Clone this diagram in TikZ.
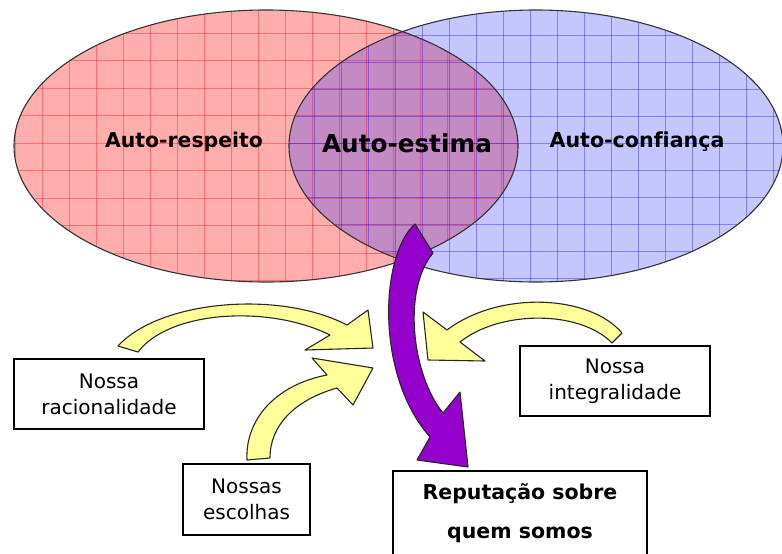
\documentclass[tikz,border=0pt]{standalone}
\usepackage{fontspec}
\setmainfont[Ligatures=NoCommon]{DejaVu Sans}
\definecolor{pinkfill}{RGB}{255,173,173}
\definecolor{bluefill}{RGB}{198,198,255}
\definecolor{mixfill}{RGB}{196,138,196}
\definecolor{purparr}{RGB}{150,0,204}
\definecolor{yelarr}{RGB}{255,255,153}
\tikzset{
  ellline/.style={draw=black!80, line width=1.1pt},
  redgrid/.style={draw=red, opacity=0.35, line width=0.8pt},
  bluegrid/.style={draw=blue, opacity=0.35, line width=0.8pt},
  purpshape/.style={fill=purparr, draw=black!85, line width=1.1pt, line join=round},
  yelshape/.style={fill=yelarr, draw=black!85, line width=1.1pt, line join=round},
  textbox/.style={draw=black, line width=1.5pt, fill=white, inner sep=0pt, align=center,
    font=\fontsize{20}{26}\selectfont},
  ellabel/.style={anchor=base, inner sep=0pt, font=\bfseries\fontsize{20.4}{24}\selectfont}
}
\begin{document}
\begin{tikzpicture}[x=1pt,y=-1pt]
\useasboundingbox (0,0) rectangle (782,554);
% ellipses fills
\fill[pinkfill] (266,146) ellipse [x radius=252, y radius=136];
\fill[bluefill] (536,146) ellipse [x radius=247, y radius=136];
\begin{scope}
  \clip (266,146) ellipse [x radius=252, y radius=136];
  \fill[mixfill] (536,146) ellipse [x radius=247, y radius=136];
\end{scope}
% grids
\begin{scope}
  \clip (266,146) ellipse [x radius=252, y radius=136];
  \foreach \gx in {15,42,...,520} \draw[redgrid] (\gx,0) -- (\gx,290);
  \foreach \gy in {5.5,33,...,290} \draw[redgrid] (0,\gy) -- (530,\gy);
\end{scope}
\begin{scope}
  \clip (536,146) ellipse [x radius=247, y radius=136];
  \foreach \gx in {287,314,...,790} \draw[bluegrid] (\gx,0) -- (\gx,290);
  \foreach \gy in {8,35,...,290} \draw[bluegrid] (280,\gy) -- (790,\gy);
\end{scope}
% outlines
\draw[ellline] (266,146) ellipse [x radius=252, y radius=136];
\draw[ellline] (536,146) ellipse [x radius=247, y radius=136];
% labels
\node[ellabel] (respeito) at (184,147) {Auto-respeito};
\node[ellabel, font=\bfseries\fontsize{24.7}{28}\selectfont] (estima) at (407,152) {Auto-estima};
\node[ellabel, font=\bfseries\fontsize{20.6}{24}\selectfont] (confianca) at (637,147) {Auto-confiança};
% purple arrow
\draw[purpshape] (415,224) .. controls (380,255) and (375,375) .. (430,437)
  -- (417,460) -- (468,467) -- (460,392) -- (443,413)
  .. controls (412,375) and (402,290) .. (433,253) -- cycle;
% yellow arrows
\draw[yelshape] (118,346) .. controls (160,300) and (280,290) .. (347,325)
  -- (368,310) -- (373,348) -- (305,350) -- (330,335)
  .. controls (270,305) and (170,310) .. (138,352) -- cycle;
\draw[yelshape] (247,460) .. controls (245,420) and (275,385) .. (327,375)
  -- (312,358) -- (373,368) -- (353,405) -- (337,388)
  .. controls (295,400) and (270,425) .. (270,458) -- cycle;
\draw[yelshape] (622,333) .. controls (590,295) and (500,290) .. (447,330)
  -- (423,312) -- (428,360) -- (485,361) -- (460,342)
  .. controls (500,310) and (580,310) .. (612,343) -- cycle;
% boxes
\node[textbox, minimum width=190, minimum height=70] (rac) at (109,394) {Nossa\\racionalidade};
\node[textbox, minimum width=127, minimum height=71] (esc) at (246.5,499.5) {Nossas\\escolhas};
\node[textbox, minimum width=190, minimum height=70] (integ) at (615,381) {Nossa\\integralidade};
\node[textbox, minimum width=254, minimum height=84, font=\bfseries\fontsize{20.5}{39}\selectfont] (rep) at (520,513) {Reputação sobre\\quem somos};
\end{tikzpicture}
\end{document}
